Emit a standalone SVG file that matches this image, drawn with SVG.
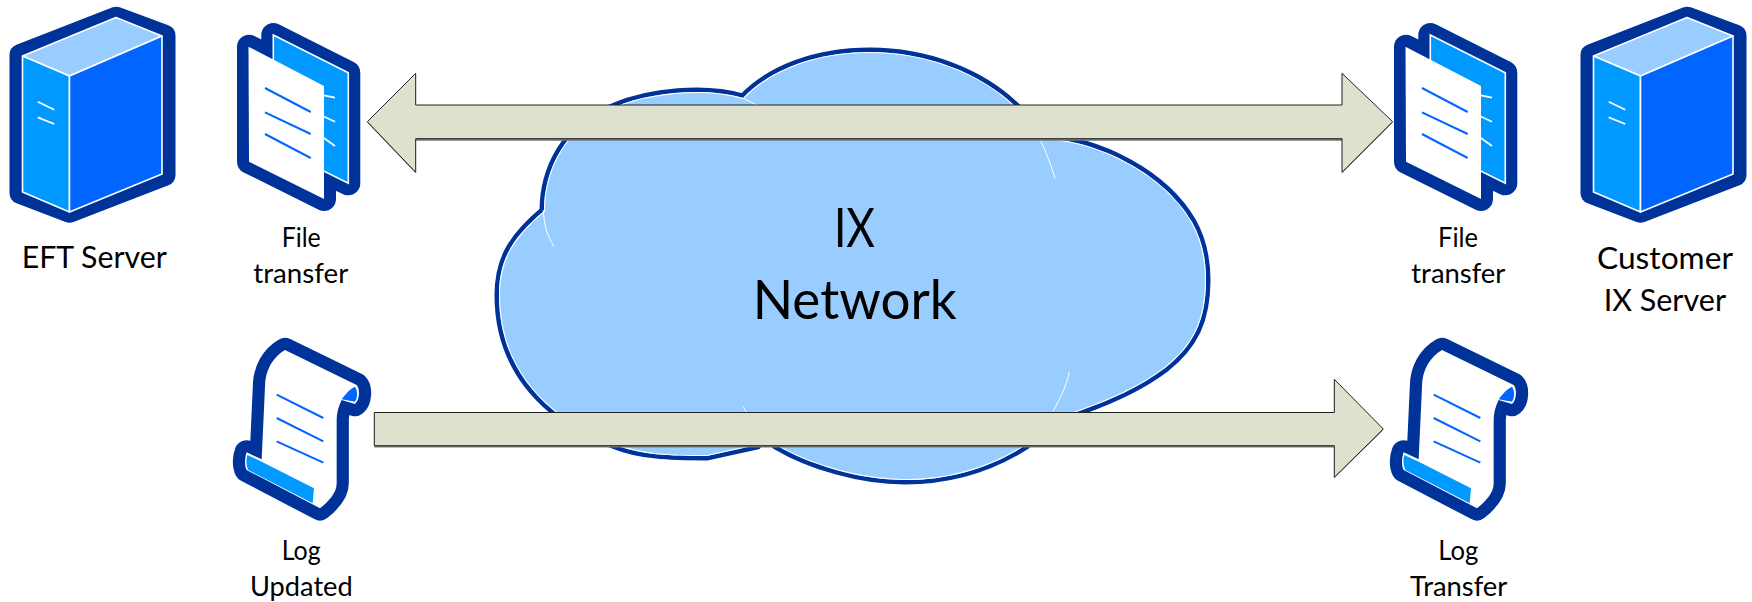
<svg xmlns="http://www.w3.org/2000/svg" xmlns:xlink="http://www.w3.org/1999/xlink" width="1752" height="602" viewBox="0 0 1752 602">
<style>
text{font-family:"Lato","Open Sans","Liberation Sans",sans-serif;fill:#000}
.hl{font-size:30px}
.sm{font-size:26px}
.big{font-size:55px}
.ol{stroke:#003399;stroke-linejoin:round;fill:#003399}
.wl{stroke:#fff;stroke-width:1.6;stroke-linejoin:round}
.bl{stroke:#0066ff;stroke-width:2;fill:none}
.wt{stroke:#fff;stroke-width:1.8;fill:none}
.sl{stroke:#fff;stroke-width:1;fill:none}
.ar{fill:#dde1cd;stroke:#222;stroke-width:1;stroke-linejoin:miter}
.sh{fill:#777;stroke:none}
</style>
<defs>
<clipPath id="cloudClip"><path id="cloudPath" d="M743 98C770 70 815 52 870 52C925 52 980 72 1016 107L1040 138C1100 140 1165 175 1192 222C1202 240 1206 258 1206 280C1206 320 1194 345 1165 368C1140 387 1110 400 1082 410L1040 425L1026 445C990 468 950 480 905 480C860 480 810 465 776 445L766 432L757 445L707 456C670 456 640 455 613 444C590 436 568 425 552 409C520 382 499 345 499 295C499 260 512 238 544 211C544 170 565 125 615 107C650 92 705 87 743 98Z"/></clipPath>
<g id="server">
<path class="ol" stroke-width="22" d="M116 17.7L164.5 35.5V175L69.5 211.7L20.5 193V55Z"/>
<path class="wl" fill="#99ccff" d="M116 17.5L162 36L69.5 76L22.5 56Z"/>
<path class="wl" fill="#0099ff" d="M22.5 56L69.5 76V212L22.5 192Z"/>
<path class="wl" fill="#0066ff" d="M69.5 76L162 36V174L69.5 212Z"/>
<path class="wt" d="M37.7 101.7L54.3 109.7M37.7 117.3L54.3 124"/>
</g>
<g id="file">
<path class="ol" stroke-width="24" d="M273.3 35L348.3 72.7V183.3L324 171.7V199L249 161.7V46.7L273.3 59Z"/>
<path fill="#0099ff" stroke="#fff" stroke-width="1.6" d="M273.3 35L348.3 72.7V183.3L273.3 146Z"/>
<path class="wt" d="M310 92.7L335 97.7M310 110L335 121.7M310 128L335 146"/>
<path fill="#fff" d="M248.5 46.7L324 86V199L249 161.7Z"/>
<path class="bl" d="M265 88L310.7 112M265 112.3L310.7 134M265 134L310.7 158"/>
</g>
<g id="scroll" transform="translate(220 320) scale(.33333)">
<path class="ol" stroke-width="73" d="M195 90L410 195C420 205 420 240 405 252L365 240C355 260 350 280 350 300V490C350 520 325 545 300 565L80 450C72 435 75 410 80 397L125 418L135 200C135 150 160 110 195 90Z"/>
<path fill="#fff" d="M195 90L410 195C420 205 420 240 405 252L365 240C355 260 350 280 350 300V490C350 520 325 545 300 565L80 450C72 435 75 410 80 397L125 418L135 200C135 150 160 110 195 90Z"/>
<path fill="#0099ff" d="M82 405L125 425L282 505L278 550L85 450C78 435 78 420 82 405Z"/>
<path fill="#0066ff" d="M365 238C375 225 385 210 405 200C415 215 412 235 405 245Z"/>
<path fill="none" stroke="#0066ff" stroke-width="6" d="M170 224L310 294M170 294L310 364M170 364L310 428"/>
</g>
</defs>

<g id="eft-server">
<use href="#server"/>
<text class="hl" x="21.7" y="268" textLength="145" lengthAdjust="spacingAndGlyphs">EFT Server</text>
</g>
<g id="file-transfer-left">
<use href="#file"/>
<text class="sm" x="281.7" y="247.3" textLength="39" lengthAdjust="spacingAndGlyphs">File</text>
<text class="sm" x="253.3" y="283.3" textLength="95" lengthAdjust="spacingAndGlyphs">transfer</text>
</g>
<g id="log-updated">
<use href="#scroll"/>
<text class="sm" x="281.7" y="560" textLength="39" lengthAdjust="spacingAndGlyphs">Log</text>
<text class="sm" x="250" y="596" textLength="102.7" lengthAdjust="spacingAndGlyphs">Updated</text>
</g>
<g id="ix-network">
<use href="#cloudPath" fill="none" stroke="#003399" stroke-width="9" stroke-linejoin="miter"/>
<use href="#cloudPath" fill="#99ccff"/>
<g clip-path="url(#cloudClip)"><use href="#cloudPath" fill="none" stroke="#fff" stroke-width="2"/></g>
<path class="sl" d="M543.3 210C544 225 547 235 554 246.7M743.3 98.3L756.7 105M1040 139.3C1046 152 1051 165 1055 178.3M743.3 406.7L746.7 412.7M1069.3 371.7C1066 388 1060 398 1053 411.7"/>
<text class="big" x="834" y="247.3" textLength="41" lengthAdjust="spacingAndGlyphs">IX</text>
<text class="big" x="752.7" y="319" textLength="204" lengthAdjust="spacingAndGlyphs">Network</text>
</g>
<g id="file-transfer-right">
<use href="#file" x="1157"/>
<text class="sm" x="1438" y="247.3" textLength="40" lengthAdjust="spacingAndGlyphs">File</text>
<text class="sm" x="1411.3" y="283.3" textLength="94" lengthAdjust="spacingAndGlyphs">transfer</text>
</g>
<g id="customer-ix-server">
<use href="#server" x="1571"/>
<text class="hl" x="1597" y="269" textLength="136" lengthAdjust="spacingAndGlyphs">Customer</text>
<text class="hl" x="1603.7" y="310.7" textLength="122.3" lengthAdjust="spacingAndGlyphs">IX Server</text>
</g>
<g id="log-transfer">
<use href="#scroll" x="1157"/>
<text class="sm" x="1438.3" y="560" textLength="40" lengthAdjust="spacingAndGlyphs">Log</text>
<text class="sm" x="1410" y="596" textLength="97.3" lengthAdjust="spacingAndGlyphs">Transfer</text>
</g>
<g id="connectors">
<path class="sh" d="M415.7 105H1342V73.3L1392.7 121.7L1342 172.3V139.7H415.7V172.3L367.3 121.7L415.7 73.3Z" transform="translate(0 1)"/>
<path class="ar" d="M415.7 105H1342V73.3L1392.7 121.7L1342 172.3V138.7H415.7V172.3L367.3 121.7L415.7 73.3Z"/>
<path class="sh" d="M374.3 412.5H1334.3V379.3L1383.3 429L1334.3 477.3V446.5H374.3Z" transform="translate(0 1)"/>
<path class="ar" d="M374.3 412.5H1334.3V379.3L1383.3 429L1334.3 477.3V445.7H374.3Z"/>
</g>
</svg>
